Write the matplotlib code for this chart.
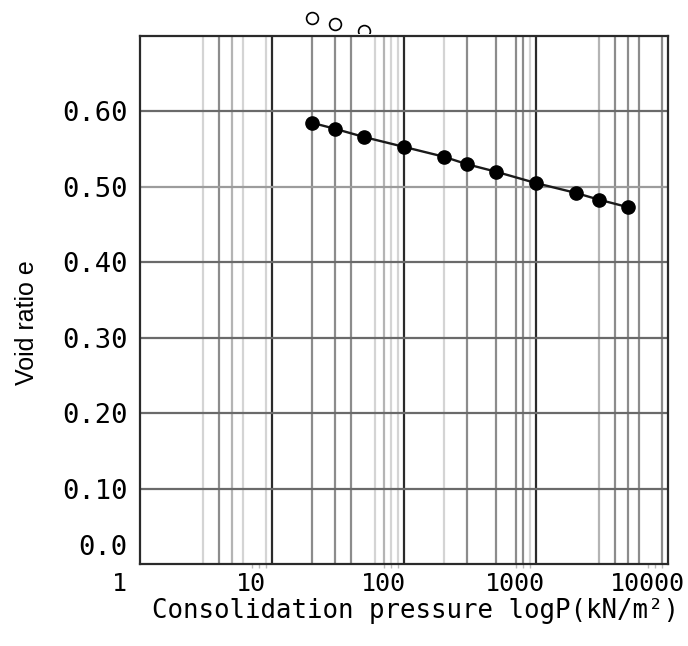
import matplotlib
matplotlib.use("Agg")
import matplotlib.pyplot as plt
import matplotlib.transforms as mtransforms
from matplotlib.patches import Rectangle

# Consolidation test results (e - logP curve)
pressure = [20, 30, 50, 100, 200, 300, 500, 1000, 2000, 3000, 5000]
void_ratio = [0.585, 0.577, 0.566, 0.553, 0.540, 0.530, 0.520, 0.505, 0.492, 0.483, 0.473]

# Loading points that sit above the plotted range
pressure_upper = [20, 30, 50]
void_ratio_upper = [0.724, 0.716, 0.707]

x_ticks = [1, 10, 100, 1000, 10000]
x_tick_labels = ["1", "10", "100", "1000", "10000"]
y_ticks = [0.10, 0.20, 0.30, 0.40, 0.50, 0.60]
y_tick_labels = ["0.10", "0.20", "0.30", "0.40", "0.50", "0.60"]
y_zero_label = "0.0"

# Vertical grid levels of the log paper
grid_decade = [10, 100, 1000]
grid_medium = [4, 20, 30, 40, 300, 500, 700, 800, 4000, 5000, 6000, 9000]
grid_mid_light = [5, 70, 3000]
grid_light = [3, 6, 9, 60, 80, 90, 200, 900]

mono = "DejaVu Sans Mono"

fig = plt.figure(figsize=(6.88, 6.46), dpi=100)
ax = fig.add_axes([140 / 688, 1 - 564 / 646, 528 / 688, 528 / 646])
ax.set_xscale("log")
ax.set_xlim(1, 10000)
ax.set_ylim(0.0, 0.70)

for v in grid_light:
    ax.axvline(v, color="#d4d4d4", lw=1.6, zorder=1)
for v in grid_mid_light:
    ax.axvline(v, color="#b4b4b4", lw=1.6, zorder=1)
for v in grid_medium:
    ax.axvline(v, color="#8c8c8c", lw=1.6, zorder=1)
for v in grid_decade:
    ax.axvline(v, color="#2a2a2a", lw=1.6, zorder=2)
for v in y_ticks:
    c = "#9c9c9c" if abs(v - 0.5) < 1e-9 else "#6a6a6a"
    ax.axhline(v, color=c, lw=1.6, zorder=2)

for s in ax.spines.values():
    s.set_color("#2a2a2a")
    s.set_linewidth(1.6)

ax.plot(pressure, void_ratio, color="#1a1a1a", lw=1.7, marker="o", ms=9.5,
        mfc="black", mec="black", zorder=5)

upper, = ax.plot(pressure_upper, void_ratio_upper, ls="none", marker="o", ms=8.5,
                 mfc="white", mec="black", mew=1.2, zorder=5)
upper.set_clip_path(Rectangle((0, 1 - 32.5 / 646), 1, 32.5 / 646,
                              transform=fig.transFigure))

ax.xaxis.set_major_locator(matplotlib.ticker.FixedLocator(x_ticks))
ax.xaxis.set_minor_locator(matplotlib.ticker.FixedLocator(
    [m * 10 ** k for k in range(4) for m in (7, 8, 9)]))
ax.xaxis.set_minor_formatter(matplotlib.ticker.NullFormatter())
ax.set_xticklabels(x_tick_labels)
ax.tick_params(axis="x", which="major", length=0, pad=6, labelsize=18)
ax.tick_params(axis="x", which="minor", length=3, width=1, color="#bbbbbb",
               direction="out")
for lab in ax.get_xticklabels():
    lab.set_fontfamily(mono)
    lab.set_transform(lab.get_transform() +
                      mtransforms.ScaledTranslation(-21 / 100, 0, fig.dpi_scale_trans))

ax.set_yticks(y_ticks)
ax.set_yticklabels(y_tick_labels)
ax.tick_params(axis="y", length=0, pad=9, labelsize=19.5)
for lab in ax.get_yticklabels():
    lab.set_fontfamily(mono)

ax.text(-13 / 528, 16 / 528, y_zero_label, transform=ax.transAxes,
        ha="right", va="center", fontsize=19.5, fontfamily=mono)

fig.text(416 / 688, 1 - 611 / 646, "Consolidation pressure logP(kN/m²)",
         ha="center", va="center", fontsize=18.5, fontfamily=mono)
fig.text(27 / 688, 1 - 323 / 646, "Void ratio e", rotation=90,
         ha="center", va="center", fontsize=18, fontfamily="Liberation Sans",
         fontstretch="normal")

fig.savefig("out.png", dpi=100)
